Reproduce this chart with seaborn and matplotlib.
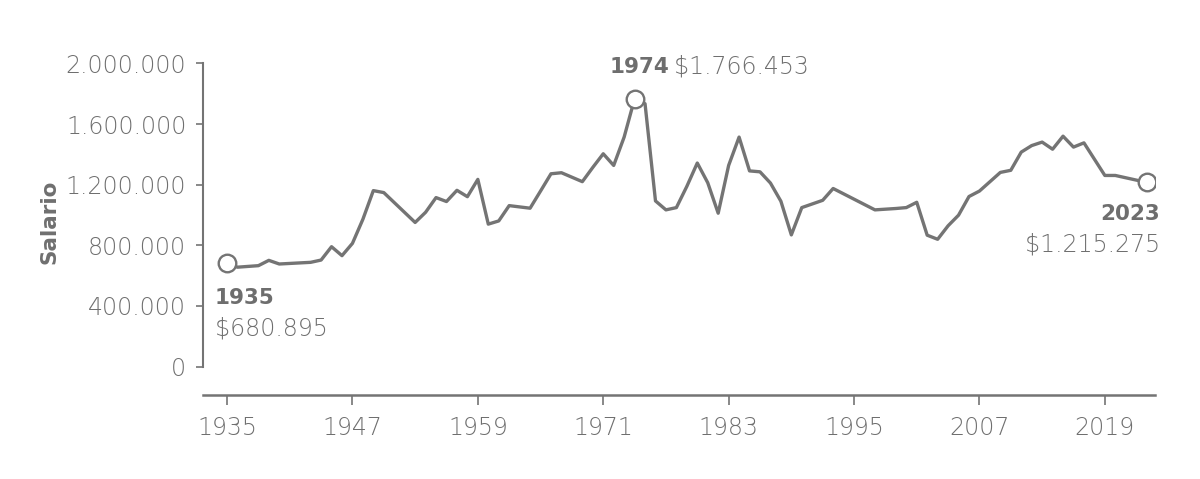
import matplotlib
matplotlib.use("Agg")
import matplotlib.pyplot as plt
import matplotlib.ticker as mticker
import seaborn as sns
import pandas as pd

years = [1935, 1936, 1938, 1939, 1940, 1943, 1944, 1945, 1946, 1947, 1948, 1949, 1950,
         1953, 1954, 1955, 1956, 1957, 1958, 1959, 1960, 1961, 1962, 1964, 1965, 1966,
         1967, 1969, 1970, 1971, 1972, 1973, 1974, 1975, 1976, 1977, 1978, 1979, 1980,
         1981, 1982, 1983, 1984, 1985, 1986, 1987, 1988, 1989, 1990, 1992, 1993, 1997,
         1999, 2000, 2001, 2002, 2003, 2004, 2005, 2006, 2007, 2009, 2010, 2011, 2012,
         2013, 2014, 2015, 2016, 2017, 2019, 2020, 2023]
salario = [680895, 656000, 666000, 701000, 677000, 688000, 703000, 791000, 732000, 813000,
           972000, 1161000, 1148000, 951000, 1018000, 1115000, 1089000, 1163000, 1121000,
           1235000, 940000, 961000, 1062000, 1045000, 1158000, 1272000, 1279000, 1220000,
           1314000, 1404000, 1327000, 1514000, 1766453, 1734000, 1093000, 1034000, 1049000,
           1189000, 1343000, 1213000, 1012000, 1327000, 1514000, 1291000, 1285000, 1211000,
           1091000, 869000, 1049000, 1097000, 1175000, 1034000, 1043000, 1049000, 1084000,
           867000, 840000, 929000, 999000, 1122000, 1158000, 1281000, 1295000, 1415000,
           1458000, 1481000, 1434000, 1520000, 1448000, 1476000, 1261000, 1261000, 1215275]
highlight_years = [1935, 1974, 2023]
y_ticks = [0, 400000, 800000, 1200000, 1600000, 2000000]
x_ticks = [1935, 1947, 1959, 1971, 1983, 1995, 2007, 2019]

df = pd.DataFrame({"year": years, "salario": salario})
hl = df[df["year"].isin(highlight_years)]

sns.set_theme(style="white")
plt.rcParams["font.family"] = ["DejaVu Sans"]

LINE = "#747474"
TXT = "#6f6f6f"
BOLD = "#6e6e6e"
FS = 17
FB = 15.5

def fmt(v):
    return f"{int(round(v)):,}".replace(",", ".")

fig = plt.figure(figsize=(12, 4.79), dpi=100)
ax = fig.add_axes([203 / 1200, 1 - 395 / 479, (1155 - 203) / 1200, (395 - 49) / 479])

sns.lineplot(data=df, x="year", y="salario", ax=ax, color=LINE, linewidth=2.4, zorder=2)
sns.scatterplot(data=hl, x="year", y="salario", ax=ax, s=160, color="white",
                edgecolor=LINE, linewidth=1.7, zorder=3)

ax.set_xlim(1932.7, 2023.8)
ax.set_ylim(-187000, 2095000)
ax.set_xticks(x_ticks)
ax.set_yticks(y_ticks)
ax.yaxis.set_major_formatter(mticker.FuncFormatter(lambda v, p: fmt(v)))
ax.xaxis.set_major_formatter(mticker.FuncFormatter(lambda v, p: f"{int(v)}"))

for s in ["top", "right"]:
    ax.spines[s].set_visible(False)
ax.spines["left"].set_bounds(0, 2000000)
ax.spines["left"].set_color(LINE)
ax.spines["left"].set_linewidth(1.5)
ax.spines["bottom"].set_color(LINE)
ax.spines["bottom"].set_linewidth(1.8)

ax.tick_params(axis="y", direction="out", length=5, width=1.2, color=LINE,
               labelsize=FS, labelcolor=TXT, pad=7, left=True)
ax.tick_params(axis="x", direction="out", length=7, width=1.2, color=LINE,
               labelsize=FS, labelcolor=TXT, pad=8, bottom=True)
for lab in ax.get_xticklabels() + ax.get_yticklabels():
    lab.set_fontweight("light")

ax.set_xlabel("")
ax.set_ylabel("Salario", fontsize=15.5, fontweight="bold", color=TXT)
ax.yaxis.set_label_coords(-0.151, 0.5)

# annotations
r35 = hl[hl["year"] == 1935].iloc[0]
r74 = hl[hl["year"] == 1974].iloc[0]
r23 = hl[hl["year"] == 2023].iloc[0]

ax.annotate(str(int(r35["year"])), (r35["year"], r35["salario"]), xytext=(-12, -35),
            textcoords="offset pixels", ha="left", va="center", fontsize=FB,
            fontweight="bold", color=BOLD)
ax.annotate("$" + fmt(r35["salario"]), (r35["year"], r35["salario"]), xytext=(-12, -65),
            textcoords="offset pixels", ha="left", va="center", fontsize=FS,
            fontweight="light", color=TXT)

ax.annotate(str(int(r74["year"])), (r74["year"], r74["salario"]), xytext=(-25, 32),
            textcoords="offset pixels", ha="left", va="center", fontsize=FB,
            fontweight="bold", color=BOLD)
ax.annotate("$" + fmt(r74["salario"]), (r74["year"], r74["salario"]), xytext=(39, 32),
            textcoords="offset pixels", ha="left", va="center", fontsize=FS,
            fontweight="light", color=TXT)

ax.annotate(str(int(r23["year"])), (r23["year"], r23["salario"]), xytext=(13, -32),
            textcoords="offset pixels", ha="right", va="center", fontsize=FB,
            fontweight="bold", color=BOLD)
ax.annotate("$" + fmt(r23["salario"]), (r23["year"], r23["salario"]), xytext=(13, -62),
            textcoords="offset pixels", ha="right", va="center", fontsize=FS,
            fontweight="light", color=TXT)

fig.savefig("out.png", dpi=100)
